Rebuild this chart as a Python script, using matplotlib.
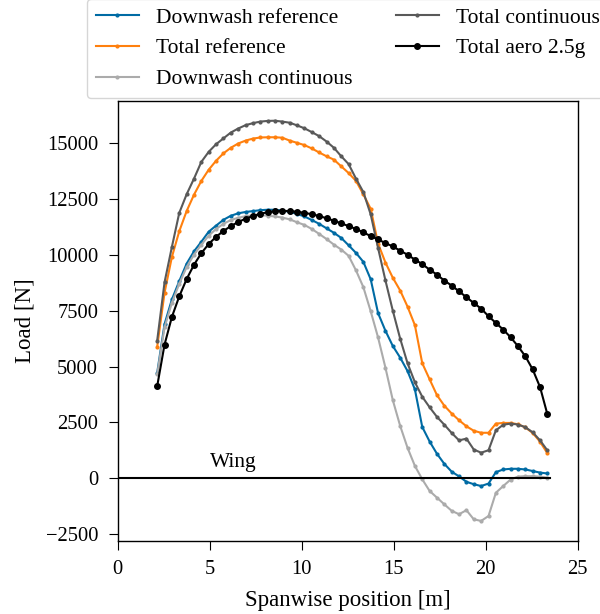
import numpy as np
import matplotlib.pyplot as plt

plt.style.use('tableau-colorblind10')
plt.rcParams['font.family'] = ['Liberation Serif', 'DejaVu Serif']
plt.rcParams['font.size'] = 15.5
plt.rcParams['axes.labelsize'] = 16.5
plt.rcParams['xtick.labelsize'] = 14.8
plt.rcParams['ytick.labelsize'] = 14.8
plt.rcParams['xtick.major.size'] = 6.5
plt.rcParams['ytick.major.size'] = 6.5
plt.rcParams['xtick.major.pad'] = 7.5
plt.rcParams['ytick.major.pad'] = 7.5
plt.rcParams['axes.linewidth'] = 1.0

# spanwise stations [m]
span = [2.15, 2.55, 2.95, 3.35, 3.75, 4.15, 4.55, 4.95, 5.35, 5.75,
        6.15, 6.55, 6.95, 7.35, 7.75, 8.15, 8.55, 8.95, 9.35, 9.75,
        10.15, 10.55, 10.95, 11.35, 11.75, 12.15, 12.55, 12.95, 13.35, 13.75,
        14.15, 14.55, 14.95, 15.35, 15.75, 16.15, 16.55, 16.95, 17.35, 17.75,
        18.15, 18.55, 18.95, 19.35, 19.75, 20.15, 20.55, 20.95, 21.35, 21.75,
        22.15, 22.55, 22.95, 23.35]

downwash_ref = [4720, 6900, 8000, 8820, 9600, 10150, 10580, 11030, 11300, 11560,
                11740, 11850, 11910, 11950, 11990, 12010, 12010, 11970, 11920, 11820,
                11710, 11550, 11380, 11180, 10980, 10750, 10420, 10080, 9680, 8900,
                7390, 6600, 5920, 5400, 4800, 3980, 2300, 1650, 1100, 650,
                300, 90, -150, -260, -340, -230, 280, 400, 430, 430,
                400, 330, 260, 220]

total_ref = [5880, 8300, 9900, 11050, 11950, 12680, 13300, 13800, 14200, 14530,
             14780, 14970, 15100, 15190, 15240, 15250, 15250, 15230, 15100, 15000,
             14900, 14750, 14570, 14400, 14250, 13950, 13650, 13300, 12700, 12050,
             10500, 9650, 8970, 8400, 7680, 6850, 5150, 4430, 3720, 3250,
             2900, 2600, 2330, 2130, 2040, 2040, 2450, 2480, 2480, 2420,
             2280, 2030, 1640, 1120]

downwash_cont = [4650, 6750, 7850, 8700, 9450, 10000, 10450, 10850, 11150, 11380,
                 11550, 11650, 11720, 11760, 11780, 11740, 11710, 11660, 11580, 11450,
                 11330, 11150, 10930, 10700, 10450, 10230, 9950, 9300, 8550, 7470,
                 6300, 4950, 3500, 2350, 1370, 560, -40, -560, -860, -1160,
                 -1450, -1600, -1420, -1830, -1900, -1680, -640, -340, -50, 80,
                 100, 100, 80, 30]

total_cont = [6160, 8765, 10350, 11870, 12700, 13400, 14150, 14600, 14940, 15200,
              15460, 15640, 15790, 15880, 15950, 15980, 15990, 15950, 15900, 15780,
              15650, 15480, 15300, 15060, 14780, 14400, 14050, 13400, 12800, 11800,
              10300, 8850, 7500, 6250, 5150, 4300, 3650, 3180, 2750, 2400,
              2030, 1700, 1780, 1290, 1150, 1260, 2150, 2400, 2450, 2410,
              2290, 2060, 1700, 1250]

total_aero = [4120, 5980, 7220, 8140, 8910, 9550, 10070, 10480, 10800, 11060,
              11280, 11460, 11610, 11730, 11830, 11900, 11940, 11960, 11950, 11920,
              11870, 11810, 11730, 11630, 11520, 11400, 11280, 11150, 11000, 10830,
              10680, 10520, 10370, 10180, 10000, 9780, 9580, 9330, 9110, 8840,
              8620, 8360, 8100, 7840, 7590, 7250, 6950, 6650, 6310, 5910,
              5460, 4870, 4080, 2860]

wing_x = [0, 23.5]
wing_y = [0, 0]

fig = plt.figure(figsize=(6, 6.14), dpi=100)
ax = fig.add_axes([0.196, 0.119, 0.767, 0.717])

ax.plot(span, downwash_ref, marker='.', ms=4, lw=1.5, label='Downwash reference')
ax.plot(span, total_ref, marker='.', ms=4, lw=1.5, label='Total reference')
ax.plot(span, downwash_cont, marker='.', ms=4, lw=1.5, label='Downwash continuous')
ax.plot(span, total_cont, marker='.', ms=4, lw=1.5, label='Total continuous')
ax.plot(span, total_aero, marker='.', ms=8, lw=1.5, color='k', label='Total aero 2.5g')
ax.plot(wing_x, wing_y, color='k', lw=1.5)
ax.text(5, 300, 'Wing', va='bottom')

ax.set_xlim(0, 25)
ax.set_xlabel('Spanwise position [m]', labelpad=8)
ax.set_ylabel('Load [N]', labelpad=7)
ax.legend(ncol=2, loc='lower center', bbox_to_anchor=(0.5, 0.982))

fig.savefig('out.png')
